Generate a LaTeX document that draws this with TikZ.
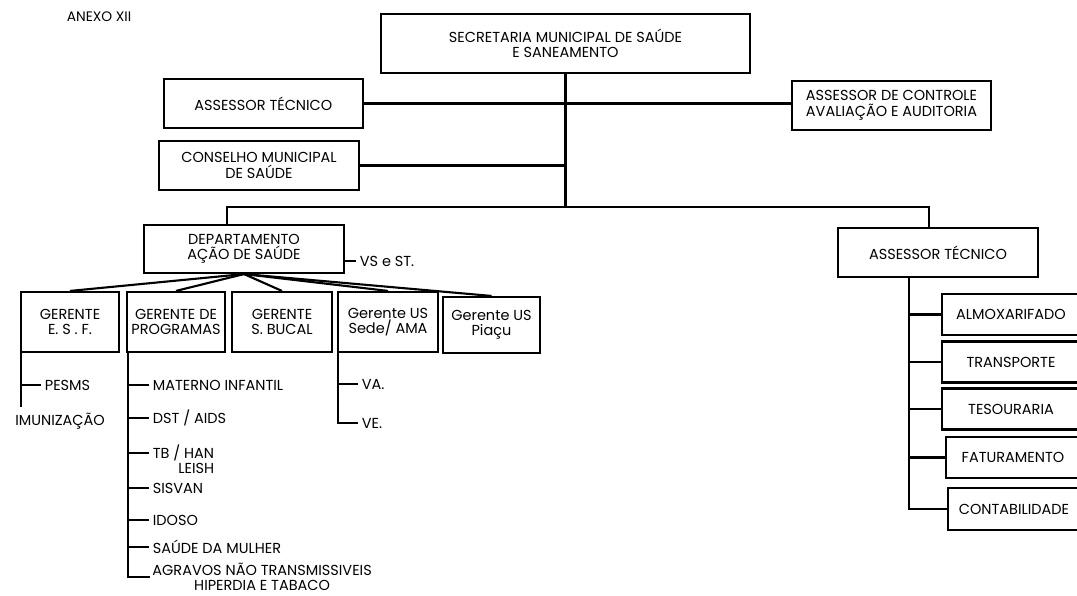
\documentclass[tikz,border=0pt]{standalone}
\usepackage{fontspec}
\setmainfont{Poppins}
\usetikzlibrary{positioning,calc}

\begin{document}
\begin{tikzpicture}[x=0.025cm, y=-0.025cm, font=\fontsize{10.3}{11}\selectfont, line width=1.5pt]
    \tikzset{box/.style={rectangle, draw, line width=1.5pt, inner sep=1pt, align=center},
      lbl/.style={inner sep=2pt, anchor=west, align=left}}
    \useasboundingbox (0,0) rectangle (1077,596);

    \node[font=\fontsize{9.8}{10}\selectfont] (anexo) at (99,17) {ANEXO XII};

    % Top: secretaria and its advisers
    \node[box, minimum width=9.225cm, minimum height=1.475cm] (sec) at (565.5,43.5) {SECRETARIA MUNICIPAL DE SAÚDE\\E SANEAMENTO};
    \node[box, minimum width=4.985cm, minimum height=1.225cm] (at1) at (263.3,103.5) {ASSESSOR TÉCNICO};
    \node[box, minimum width=4.975cm, minimum height=1.225cm] (ctrl) at (891.5,105.5) {ASSESSOR DE CONTROLE\\AVALIAÇÃO E AUDITORIA};
    \node[box, minimum width=5cm, minimum height=1.225cm] (cms) at (259,165.5) {CONSELHO MUNICIPAL\\DE SAÚDE};
    \draw (at1.east) -- (ctrl.west |- at1.east);
    \draw (cms.east) -- (cms.east -| sec.south);
    \draw (sec.south) -- ++(0,133) coordinate (hub);

    % Second level
    \node[box, minimum width=5cm, minimum height=1.2cm] (dep) at (244,249) {DEPARTAMENTO\\AÇÃO DE SAÚDE};
    \node[box, minimum width=5cm, minimum height=1.225cm] (at2) at (938,252.5) {ASSESSOR TÉCNICO};
    \draw ($(dep.north)+(-17,0)$) |- (hub) -| ($(at2.north)+(-9,0)$);
    \node[lbl] (vs) at (356,261) {VS e ST.};
    \draw (dep.east |- vs.west) -- (vs.west);

    % Gerentes
    \node[box, minimum width=2.45cm, minimum height=1.5cm] (g1) at (70,322) {GERENTE\\E. S . F.};
    \node[box, minimum width=2.46cm, minimum height=1.5cm] (g2) at (176,322) {GERENTE DE\\PROGRAMAS};
    \node[box, minimum width=2.5cm, minimum height=1.5cm] (g3) at (282,322) {GERENTE\\S. BUCAL};
    \node[box, minimum width=2.49cm, minimum height=1.5cm] (g4) at (388,322) {Gerente US\\Sede/ AMA};
    \node[box, minimum width=2.425cm, minimum height=1.4cm] (g5) at (491.5,325) {Gerente US\\Piaçu};
    \foreach \g in {g1,g2,g3,g4,g5}
      \draw (dep.south) -- (\g.north);

    % E.S.F.
    \coordinate (ev) at ($(g1.south west)+(1,0)$);
    \node[lbl] (pesms) at (41,385) {PESMS};
    \node (imu) at (60,421) {IMUNIZAÇÃO};
    \draw (ev) -- (imu.north -| ev);
    \draw (pesms.west) -- (pesms.west -| ev);

    % Programas
    \coordinate (pv) at ($(g2.south west)+(2,0)$);
    \node[lbl] (mat) at (149,385) {MATERNO INFANTIL};
    \node[lbl] (dst) at (149,418) {DST / AIDS};
    \node[lbl, anchor=north west, align=right] (tb) at (149,441) {TB / HAN\\LEISH};
    \node[lbl] (sis) at (149,488) {SISVAN};
    \node[lbl] (ido) at (149,520) {IDOSO};
    \node[lbl] (mul) at (149,547) {SAÚDE DA MULHER};
    \node[lbl, align=center, inner sep=1pt] (agr) at (150,577) {AGRAVOS NÃO TRANSMISSIVEIS\\HIPERDIA E TABACO};
    \draw (pv) |- (agr.west);
    \foreach \n in {mat,dst,sis,ido,mul}
      \draw (\n.west) -- (\n.west -| pv);
    \draw ($(tb.north west)+(0,12)$) -- (pv |- {$(tb.north west)+(0,12)$});

    % Sede/ AMA
    \coordinate (av) at ($(g4.south west)+(1,0)$);
    \node[lbl] (va) at (358,384) {VA.};
    \node[lbl] (ve) at (358,423) {VE.};
    \draw (av) |- (ve.west);
    \draw (va.west) -- (va.west -| av);

    % Assessor tecnico: setores
    \node[box, minimum width=3.45cm, minimum height=1.025cm] (alm) at (1011,314.5) {ALMOXARIFADO};
    \node[box, minimum width=3.45cm, minimum height=1.025cm] (tra) at (1011,362) {TRANSPORTE};
    \node[box, minimum width=3.45cm, minimum height=1.025cm] (tes) at (1011,409) {TESOURARIA};
    \node[box, minimum width=3.35cm, minimum height=1.025cm] (fat) at (1013,457.5) {FATURAMENTO};
    \node[box, minimum width=3.3cm, minimum height=1.05cm] (con) at (1014,509) {CONTABILIDADE};
    \coordinate (rv) at ($(at2.south)+(-29,0)$);
    \draw (rv) |- (con.west);
    \foreach \n in {alm,tra,tes,fat}
      \draw (\n.west) -- (\n.west -| rv);
  \end{tikzpicture}
\end{document}
